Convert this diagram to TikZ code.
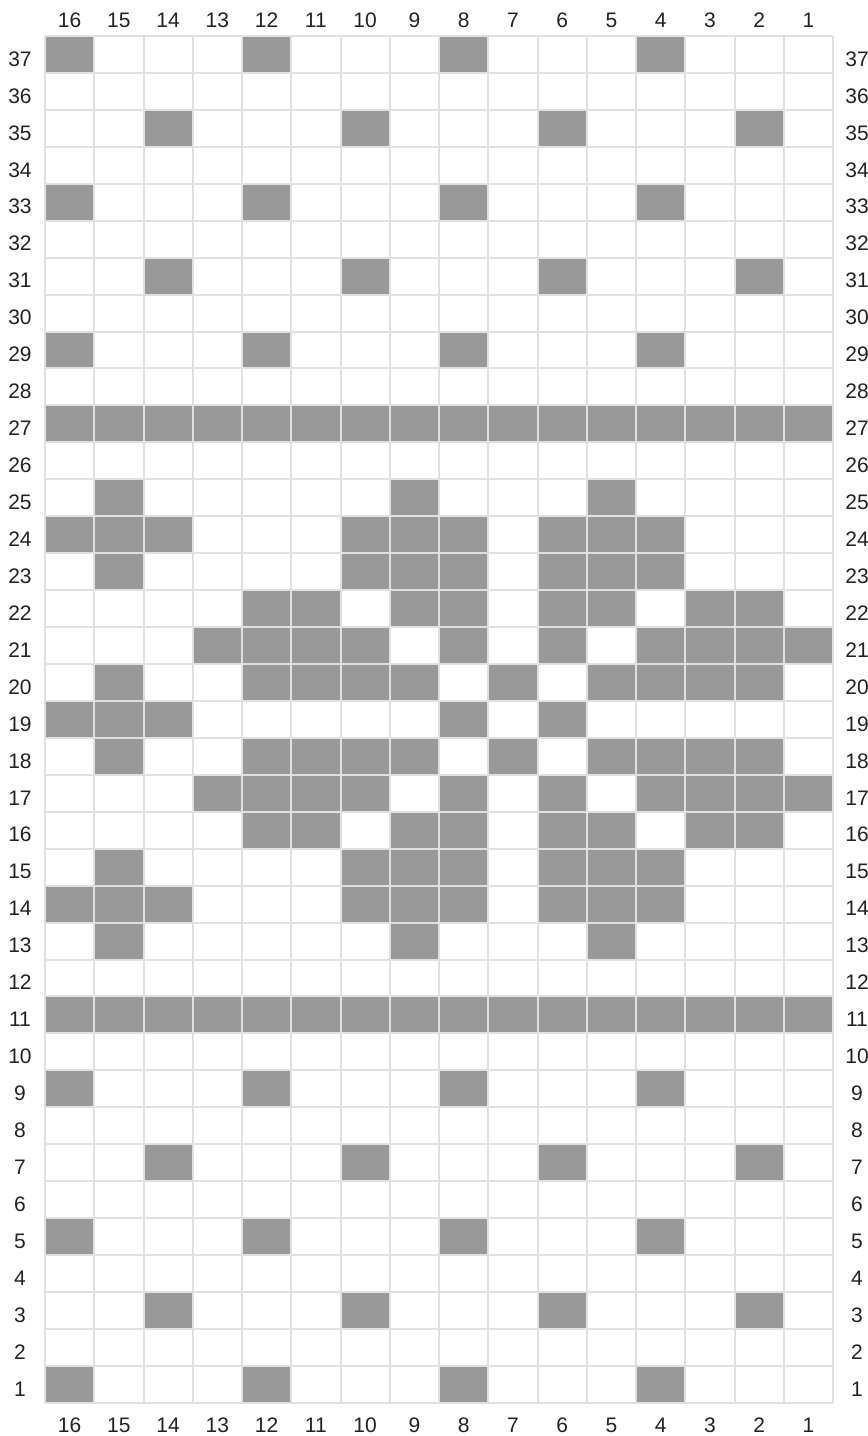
\documentclass[tikz,border=0pt]{standalone}
\usepackage{fontspec}
\setmainfont{Liberation Sans}
\usepackage{xcolor}
\usetikzlibrary{positioning}
\definecolor{gridgray}{HTML}{E0E0E0}
\definecolor{stitchgray}{HTML}{999999}
\definecolor{numgray}{HTML}{222222}
\tikzset{
  gridline/.style={draw=gridgray, line width=1pt},
  stitch/.style={fill=stitchgray},
  numlab/.style={font=\fontsize{10.5}{12}\selectfont, text=numgray, inner sep=0pt},
}
\newcommand{\cw}{49.25}
\newcommand{\rh}{36.94}
\newcommand{\knitrow}[2]{%
  \foreach \c in {#2}{%
    \fill[stitch] ({45+(16-\c)*\cw},{36+(37-#1)*\rh}) rectangle ++(\cw,\rh);%
  }%
}

\begin{document}
\begin{tikzpicture}[x=0.5pt,y=-0.5pt]
\useasboundingbox (0,0) rectangle (868,1436);
% border pattern, top
\knitrow{37}{16,12,8,4}
\knitrow{35}{14,10,6,2}
\knitrow{33}{16,12,8,4}
\knitrow{31}{14,10,6,2}
\knitrow{29}{16,12,8,4}
\knitrow{27}{1,...,16}
% star motif
\knitrow{25}{15,9,5}
\knitrow{24}{16,15,14,10,9,8,6,5,4}
\knitrow{23}{15,10,9,8,6,5,4}
\knitrow{22}{12,11,9,8,6,5,3,2}
\knitrow{21}{13,12,11,10,8,6,4,3,2,1}
\knitrow{20}{15,12,11,10,9,7,5,4,3,2}
\knitrow{19}{16,15,14,8,6}
\knitrow{18}{15,12,11,10,9,7,5,4,3,2}
\knitrow{17}{13,12,11,10,8,6,4,3,2,1}
\knitrow{16}{12,11,9,8,6,5,3,2}
\knitrow{15}{15,10,9,8,6,5,4}
\knitrow{14}{16,15,14,10,9,8,6,5,4}
\knitrow{13}{15,9,5}
% border pattern, bottom
\knitrow{11}{1,...,16}
\knitrow{9}{16,12,8,4}
\knitrow{7}{14,10,6,2}
\knitrow{5}{16,12,8,4}
\knitrow{3}{14,10,6,2}
\knitrow{1}{16,12,8,4}
% grid
\foreach \i in {0,...,16}{%
  \draw[gridline] ({45+\i*\cw},36) -- ({45+\i*\cw},{36+37*\rh});
}
\foreach \j in {0,...,37}{%
  \draw[gridline] (45,{36+\j*\rh}) -- ({45+16*\cw},{36+\j*\rh});
}
% stitch and row numbers
\foreach \c in {1,...,16}{%
  \node[numlab] (top\c) at ({45+(16.5-\c)*\cw},20) {\c};
  \node[numlab] (bot\c) at ({45+(16.5-\c)*\cw},1425) {\c};
}
\foreach \r in {1,...,37}{%
  \node[numlab] (lft\r) at (20,{40.5+(37.5-\r)*\rh}) {\r};
  \node[numlab] (rgt\r) at (857,{40.5+(37.5-\r)*\rh}) {\r};
}
\end{tikzpicture}
\end{document}
